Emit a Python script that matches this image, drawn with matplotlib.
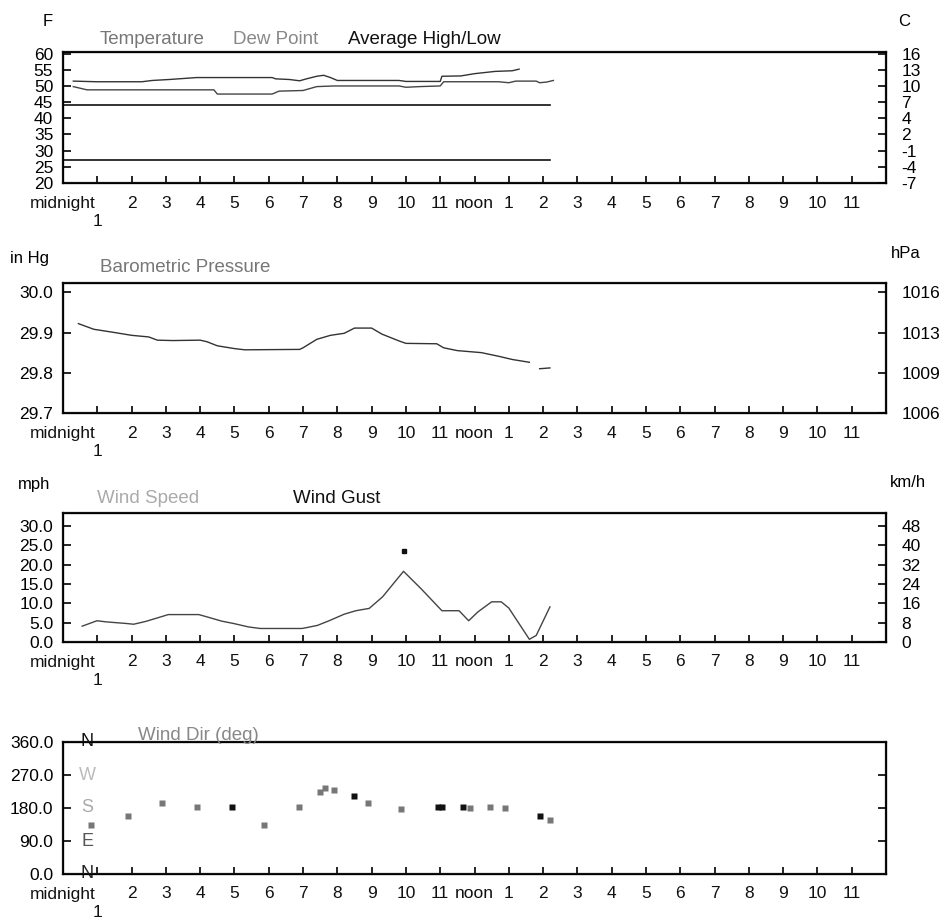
import matplotlib.pyplot as plt
import numpy as np
from matplotlib import font_manager

# 폰트 선택 (Arial 계열)
names = set(f.name for f in font_manager.fontManager.ttflist)
font = 'Liberation Sans' if 'Liberation Sans' in names else 'DejaVu Sans'
plt.rcParams['font.family'] = font

# x축 (시간) - 1시 라벨은 midnight 아래 줄에 따로 찍음
hour_ticks = list(range(24))
hour_labels = ['midnight', '', '2', '3', '4', '5', '6', '7', '8', '9', '10', '11',
               'noon', '1', '2', '3', '4', '5', '6', '7', '8', '9', '10', '11']
second_line_hour = 1
second_line_label = '1'

# 기온 / 이슬점 (F)
temp_hours = [0.3, 1.0, 2.3, 2.6, 3.1, 3.9, 6.1, 6.2, 6.6, 6.9, 7.1, 7.4, 7.6, 7.8, 8.0,
              9.8, 10.0, 11.0, 11.05, 11.6, 12.0, 12.6, 13.1, 13.3, 13.6, 13.9]
temp_vals = [51.5, 51.3, 51.3, 51.7, 52.0, 52.6, 52.6, 52.2, 52.0, 51.6, 52.2, 53.0, 53.3, 52.6, 51.7,
             51.7, 51.4, 51.4, 53.0, 53.1, 53.8, 54.5, 54.7, 55.2, np.nan, 54.4]
dew_hours = [0.3, 0.7, 4.4, 4.5, 6.1, 6.3, 7.0, 7.2, 7.4, 7.9, 9.8, 10.0, 10.4, 11.0, 11.1,
             12.7, 13.0, 13.2, 13.8, 13.9, 14.1, 14.3]
dew_vals = [49.8, 48.8, 48.8, 47.5, 47.5, 48.4, 48.6, 49.2, 49.8, 50.0, 50.0, 49.6, 49.8, 50.0, 51.3,
            51.3, 51.0, 51.5, 51.5, 51.0, 51.2, 51.7]
avg_hours = [0, 14.2]
avg_high = 44
avg_low = 27
temp_ticks = [20, 25, 30, 35, 40, 45, 50, 55, 60]
temp_c_labels = ['-7', '-4', '-1', '2', '4', '7', '10', '13', '16']

# 기압 (in Hg)
pres_hours = [0.45, 0.9, 1.5, 2.0, 2.5, 2.75, 3.2, 4.0, 4.2, 4.5, 5.0, 5.3, 6.9, 7.0, 7.4, 7.8,
              8.2, 8.5, 9.0, 9.3, 9.8, 10.0, 10.9, 11.1, 11.5, 12.2, 12.7, 13.1, 13.6, 13.75, 13.9, 14.2]
pres_vals = [29.922, 29.908, 29.900, 29.893, 29.889, 29.881, 29.880, 29.881, 29.877, 29.867, 29.860,
             29.857, 29.858, 29.862, 29.883, 29.893, 29.898, 29.911, 29.911, 29.896, 29.879, 29.873,
             29.872, 29.862, 29.855, 29.850, 29.841, 29.833, 29.826, np.nan, 29.810, 29.812]
pres_ticks = [29.7, 29.8, 29.9, 30.0]
pres_hpa_labels = ['1006', '1009', '1013', '1016']

# 풍속 / 돌풍 (mph)
wind_hours = [0.56, 0.99, 1.27, 1.84, 2.06, 2.4, 2.85, 3.07, 3.96, 4.2, 4.63, 4.97, 5.41, 5.75, 6.97,
              7.09, 7.42, 7.76, 8.2, 8.54, 8.93, 9.32, 9.93, 10.43, 11.05, 11.55, 11.83, 12.1, 12.5,
              12.78, 13.0, 13.6, 13.8, 14.2]
wind_vals = [4.1, 5.5, 5.2, 4.8, 4.6, 5.3, 6.5, 7.1, 7.1, 6.5, 5.4, 4.8, 3.9, 3.5, 3.5,
             3.7, 4.3, 5.5, 7.2, 8.1, 8.7, 11.7, 18.3, 13.9, 8.1, 8.1, 5.5, 7.8, 10.4,
             10.4, 8.8, 0.7, 1.7, 9.1]
gust_hours = [9.93]
gust_vals = [23.5]
wind_ticks = [0, 5, 10, 15, 20, 25, 30]
wind_kmh_labels = ['0', '8', '16', '24', '32', '40', '48']

# 풍향 (deg)
dir_hours = [0.83, 1.9, 2.9, 3.9, 4.93, 5.86, 6.89, 7.48, 7.63, 7.9, 8.49, 8.9, 9.86, 10.94, 11.05,
             11.67, 11.87, 12.45, 12.9, 13.9, 14.2]
dir_vals = [135, 157, 193, 182, 184, 135, 182, 225, 235, 228, 214, 193, 178, 184, 184,
            184, 179, 184, 179, 158, 147]
dir_dark = [False, False, False, False, True, False, False, False, False, False, True, False, False,
            True, True, True, False, False, False, True, False]
dir_ticks = [0, 90, 180, 270, 360]
compass = ['N', 'E', 'S', 'W', 'N']
compass_colors = ['#222222', '#555555', '#aaaaaa', '#bbbbbb', '#111111']

W, H = 940, 919
fig = plt.figure(figsize=(W / 100, H / 100), dpi=100)


def make_axes(top, bottom):
    left, right = 63, 886
    ax = fig.add_axes([left / W, 1 - bottom / H, (right - left) / W, (bottom - top) / H])
    ax.set_xlim(0, 24)
    ax.set_xticks(hour_ticks)
    ax.set_xticklabels(hour_labels, fontsize=12.5, color='#111111')
    ax.tick_params(axis='x', direction='in', length=5, width=1.2, pad=9)
    ax.tick_params(axis='y', direction='in', length=6, width=1.2, labelsize=12.5, pad=7)
    for s in ax.spines.values():
        s.set_linewidth(1.6)
        s.set_color('#111111')
    # '1' 은 midnight 밑에 한 줄 내려서
    ax.annotate(second_line_label, xy=(second_line_hour, 0), xycoords=ax.get_xaxis_transform(),
                xytext=(0, -28), textcoords='offset points', ha='center', va='center',
                fontsize=12.5, color='#111111')
    return ax


def right_axis(ax, ticks, labels, size=12.5):
    ax2 = ax.twinx()
    ax2.set_ylim(ax.get_ylim())
    ax2.set_yticks(ticks)
    ax2.set_yticklabels(labels)
    ax2.tick_params(axis='y', direction='in', length=6, width=1.2, labelsize=size, pad=11)
    return ax2


# ---- 1. 기온 ----
ax1 = make_axes(52, 183)
ax1.plot(temp_hours, temp_vals, color='#333333', lw=1.0)
ax1.plot(dew_hours, dew_vals, color='#444444', lw=1.0)
ax1.plot(avg_hours, [avg_high, avg_high], color='#111111', lw=1.2)
ax1.plot(avg_hours, [avg_low, avg_low], color='#111111', lw=1.2)
ax1.set_ylim(20, 60.5)
ax1.set_yticks(temp_ticks)
ax1.set_yticklabels([str(t) for t in temp_ticks], fontsize=12.5)
right_axis(ax1, temp_ticks, temp_c_labels)
fig.text(48 / W, 1 - 22 / H, 'F', fontsize=12, ha='center', va='center')
fig.text(904 / W, 1 - 22 / H, 'C', fontsize=12, ha='center', va='center')
fig.text(100 / W, 1 - 40 / H, 'Temperature', fontsize=13.5, color='#777777', va='center')
fig.text(233 / W, 1 - 40 / H, 'Dew Point', fontsize=13.5, color='#888888', va='center')
fig.text(348 / W, 1 - 40 / H, 'Average High/Low', fontsize=13.5, color='#111111', va='center')

# ---- 2. 기압 ----
ax2 = make_axes(283, 413)
ax2.plot(pres_hours, pres_vals, color='#333333', lw=1.0)
ax2.set_ylim(29.7, 30.023)
ax2.set_yticks(pres_ticks)
ax2.set_yticklabels(['%.1f' % t for t in pres_ticks])
right_axis(ax2, pres_ticks, pres_hpa_labels)
fig.text(30 / W, 1 - 258 / H, 'in Hg', fontsize=12, ha='center', va='center')
fig.text(906 / W, 1 - 254 / H, 'hPa', fontsize=12, ha='center', va='center')
fig.text(100 / W, 1 - 267 / H, 'Barometric Pressure', fontsize=13.5, color='#777777', va='center')

# ---- 3. 바람 ----
ax3 = make_axes(513, 642)
ax3.plot(wind_hours, wind_vals, color='#444444', lw=1.0)
ax3.plot(gust_hours, gust_vals, 's', color='#111111', ms=3.5)
ax3.set_ylim(0, 33.4)
ax3.set_yticks(wind_ticks)
ax3.set_yticklabels(['%.1f' % t for t in wind_ticks])
right_axis(ax3, wind_ticks, wind_kmh_labels)
fig.text(34 / W, 1 - 485 / H, 'mph', fontsize=12, ha='center', va='center')
fig.text(908 / W, 1 - 483 / H, 'km/h', fontsize=12, ha='center', va='center')
fig.text(97 / W, 1 - 498 / H, 'Wind Speed', fontsize=13.5, color='#aaaaaa', va='center')
fig.text(293 / W, 1 - 498 / H, 'Wind Gust', fontsize=13.5, color='#111111', va='center')

# ---- 4. 풍향 ----
ax4 = make_axes(742, 874)
for h, d, dark in zip(dir_hours, dir_vals, dir_dark):
    ax4.plot(h, d, 's', color='#111111' if dark else '#777777', ms=4.5, mec='none')
ax4.set_ylim(0, 360)
ax4.set_yticks(dir_ticks)
ax4.set_yticklabels(['%.1f' % t for t in dir_ticks])
for t, c, col in zip(dir_ticks, compass, compass_colors):
    ax4.text(0.7, t, c, fontsize=13, color=col, ha='center', va='center', clip_on=False)
right_axis(ax4, [90, 180, 270], ['', '', ''])
fig.text(138 / W, 1 - 736 / H, 'Wind Dir (deg)', fontsize=13.5, color='#888888', va='center')

fig.savefig('out.png', dpi=100)
